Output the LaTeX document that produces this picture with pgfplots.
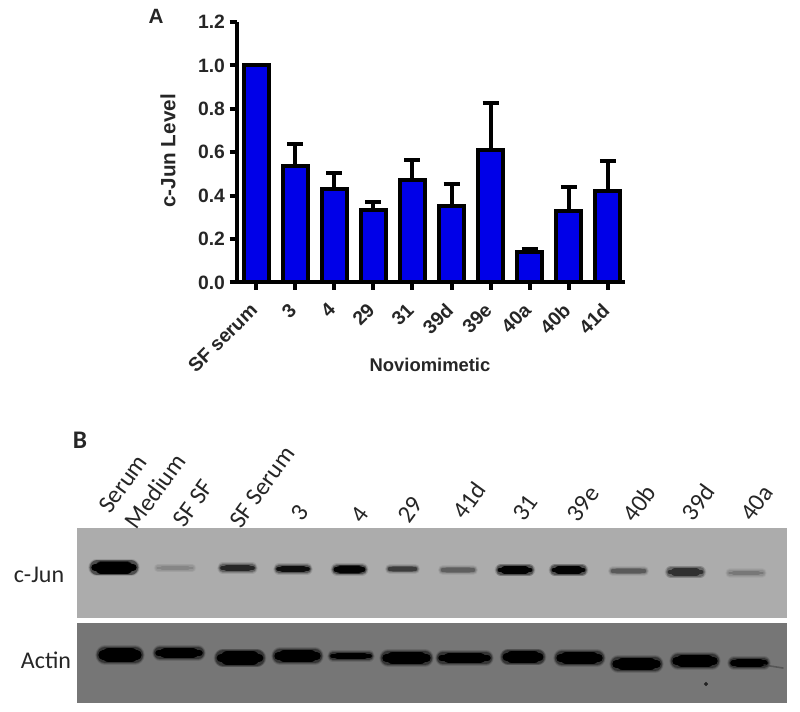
\documentclass[border=0pt]{standalone}
\usepackage{fontspec}
\setmainfont{Liberation Sans}
\newfontfamily\calibri{Carlito}
\usepackage{pgfplots}
\pgfplotsset{compat=1.18}
\definecolor{barblue}{RGB}{0,0,232}
\definecolor{junbg}{RGB}{172,172,172}
\definecolor{actbg}{RGB}{118,118,118}

% one blot band: x1 x2 y thickness blackness background
\newcommand{\band}[6]{%
  \pgfmathsetmacro{\xa}{#1+0.13*(#2-#1)}%
  \pgfmathsetmacro{\xb}{#2-0.13*(#2-#1)}%
  \pgfmathsetmacro{\xc}{#1-0.2*#4}%
  \pgfmathsetmacro{\xd}{#2+0.2*#4}%
  \addplot[black!#5!#6, line width=#4pt+4pt, line cap=round, opacity=.12, forget plot] coordinates {(#1,#3) (#2,#3)};
  \addplot[black!#5!#6, line width=#4pt+2.8pt, line cap=round, opacity=.2, forget plot] coordinates {(#1,#3) (#2,#3)};
  \addplot[black!#5!#6, line width=#4pt+1.6pt, line cap=round, opacity=.35, forget plot] coordinates {(#1,#3) (#2,#3)};
  \addplot[black!#5!#6, line width=#4pt+0.6pt, line cap=round, opacity=.5, forget plot] coordinates {(\xa,#3) (\xb,#3)};
  \addplot[black!#5!#6, line width=0.65*#4 pt, line cap=round, forget plot] coordinates {(\xc,#3) (\xd,#3)};
  \addplot[black!#5!#6, line width=#4pt, line cap=round, forget plot] coordinates {(\xa,#3) (\xb,#3)};
}
\newcommand{\lane}[3]{\node[rotate=54, font=\calibri\fontsize{18.5}{18.5}\selectfont, text=black!85] at (axis cs:#1,#2) {#3};}

\pgfplotstableread{
x y err
0 1.00 0.0
1 0.535 0.105
2 0.43 0.075
3 0.335 0.035
4 0.47 0.095
5 0.35 0.105
6 0.61 0.215
7 0.14 0.012
8 0.33 0.11
9 0.42 0.14
}\junlevels

\begin{document}
\begin{tikzpicture}
\useasboundingbox (0,0) rectangle (600pt,533.25pt);

% panel B, in picture pixels
\begin{axis}[at={(0,0)}, anchor=south west, scale only axis,
    width=600pt, height=533.25pt, xmin=0, xmax=800, ymin=0, ymax=711,
    y dir=reverse, hide axis]
  \addplot[fill=junbg, draw=none, forget plot] coordinates {(77,528) (787,528) (787,618) (77,618)} -- cycle;
  \addplot[fill=actbg, draw=none, forget plot] coordinates {(77,623) (787,623) (787,703) (77,703)} -- cycle;
  % c-Jun
  \band{97}{131}{567.5}{9}{100}{junbg}
  \band{158}{192}{568}{2.5}{22}{junbg}
  \band{223}{252}{568}{4.5}{78}{junbg}
  \band{279}{307}{569}{4.5}{92}{junbg}
  \band{337}{362}{569.5}{5.5}{98}{junbg}
  \band{390}{415}{569}{3.5}{65}{junbg}
  \band{443}{473}{570}{3.5}{45}{junbg}
  \band{501}{529}{570}{5.5}{98}{junbg}
  \band{555}{582}{570}{5.5}{98}{junbg}
  \band{613}{644}{571}{3.5}{48}{junbg}
  \band{671}{700}{572}{5.5}{72}{junbg}
  \band{730}{762}{573}{3}{30}{junbg}
  % actin
  \band{105}{135}{655}{10.5}{100}{actbg}
  \band{160}{198}{653}{7.5}{100}{actbg}
  \band{223}{257}{658}{10}{100}{actbg}
  \band{280}{315}{656}{9}{100}{actbg}
  \band{333}{369}{656}{4.5}{100}{actbg}
  \band{388}{425}{658}{9}{100}{actbg}
  \band{443}{486}{658}{7.5}{100}{actbg}
  \band{508}{538}{657}{8.5}{100}{actbg}
  \band{562}{597}{658}{9}{100}{actbg}
  \band{618}{655}{664}{9}{100}{actbg}
  \band{678}{712}{661}{9}{100}{actbg}
  \band{734}{764}{663}{6}{100}{actbg}
  % tail of the last actin band and a speck
  \addplot[black!45!actbg, line width=1.2pt, line cap=round, opacity=.6, forget plot] coordinates {(764,665) (783,668)};
  \addplot[only marks, mark=*, mark size=1.3pt, black!70!actbg, forget plot] coordinates {(706,684)};
  % lanes
  \lane{123}{484}{Serum}
  \lane{155}{491}{Medium}
  \lane{193}{503}{SF SF}
  \lane{262}{487}{SF Serum}
  \lane{300}{513}{3}
  \lane{360}{515}{4}
  \lane{410}{510}{29}
  \lane{469}{500}{41d}
  \lane{525}{508}{31}
  \lane{583}{504}{39e}
  \lane{639}{503}{40b}
  \lane{698}{502}{39d}
  \lane{757}{503}{40a}
  \node[font=\calibri\fontsize{18}{18}\selectfont, text=black!85] at (axis cs:39,575) {c-Jun};
  \node[font=\calibri\fontsize{18}{18}\selectfont, text=black!85] at (axis cs:46,660) {Actin};
  \node[font=\calibri\bfseries\fontsize{19}{19}\selectfont, text=black!85] at (axis cs:80,440) {B};
  % texts of panel A
  \node[font=\bfseries\fontsize{15.5}{15.5}\selectfont, text=black!85] at (axis cs:156,16) {A};
  \node[font=\bfseries\fontsize{13.8}{13.8}\selectfont, text=black!85] at (axis cs:430,365) {Noviomimetic};
  \node[rotate=90, font=\bfseries\fontsize{15.5}{15.5}\selectfont, text=black!85] at (axis cs:168,151) {c-Jun Level};
\end{axis}

% panel A
\begin{axis}[at={(177.75pt,321.4pt)}, anchor=south west, scale only axis,
    width=291.1pt, height=195.4pt,
    xmin=-0.486, xmax=9.44, ymin=0, ymax=1.2,
    axis lines=left,
    axis line style={-, line width=3pt},
    every tick/.style={black, line width=3pt},
    tick align=outside, major tick length=5.5pt,
    ytick={0,0.2,0.4,0.6,0.8,1.0,1.2},
    xtick={0,1,2,3,4,5,6,7,8,9},
    xticklabels={SF serum,3,4,29,31,39d,39e,40a,40b,41d},
    xticklabel style={rotate=45, anchor=north east, inner sep=1pt, text=black!85,
      xshift=-9pt, yshift=-1.5pt,
      font=\bfseries\fontsize{14.5}{14.5}\selectfont},
    yticklabel style={text=black!85, font=\bfseries\fontsize{14.5}{14.5}\selectfont},
    /pgf/number format/.cd, fixed, fixed zerofill, precision=1, assume math mode=true]
  \addplot[ybar, bar width=18.75pt, fill=barblue, draw=black, line width=3pt,
      error bars/.cd, y dir=plus, y explicit,
      error bar style={line width=3pt, black},
      error mark options={rotate=90, mark size=6pt, line width=3pt, black}]
    table[x=x, y=y, y error=err] {\junlevels};
\end{axis}
\end{tikzpicture}
\end{document}
